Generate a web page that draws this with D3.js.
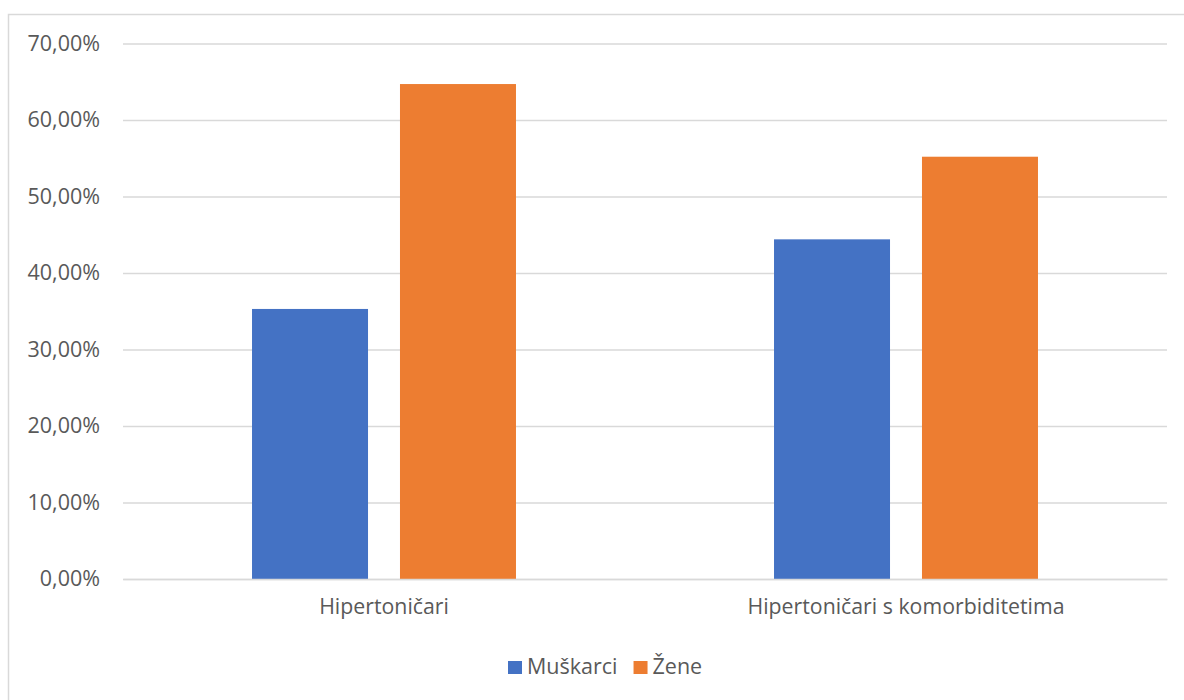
<!DOCTYPE html>
<html>
<head>
<meta charset="utf-8">
<script src="https://cdn.jsdelivr.net/npm/d3@7"></script>
<style>
  html, body { margin: 0; padding: 0; background: #fff; }
  text { font-family: "Open Sans", sans-serif; fill: #595959; }
</style>
</head>
<body>
<div id="chart"></div>
<script>
// Chart data
const categories = ["Hipertoničari", "Hipertoničari s komorbiditetima"];
const seriesNames = ["Muškarci", "Žene"];
const muskarci = [0.353, 0.444];
const zene = [0.647, 0.552];
const yTicks = [0, 0.1, 0.2, 0.3, 0.4, 0.5, 0.6, 0.7];
const colors = ["#4472C4", "#ED7D31"];

const W = 1184, H = 700;
const plot = { left: 123, right: 1167, top: 43.5, bottom: 579 };

const svg = d3.select("#chart").append("svg")
  .attr("width", W)
  .attr("height", H);

// Chart area border (only top and left visible in the frame)
svg.append("rect")
  .attr("x", 8.5).attr("y", 14.5)
  .attr("width", 1300).attr("height", 800)
  .attr("fill", "none")
  .attr("stroke", "#d9d9d9")
  .attr("stroke-width", 1.5);

// Scales
const x0 = d3.scaleBand()
  .domain(categories)
  .range([plot.left, plot.right])
  .padding(0);

const x1 = d3.scaleBand()
  .domain(seriesNames)
  .range([0, x0.bandwidth()])
  .paddingInner(0.216)
  .paddingOuter(0.872);

const y = d3.scaleLinear()
  .domain([0, 0.7])
  .range([plot.bottom, plot.top]);

const fmt = v => d3.format(".2f")(v * 100).replace(".", ",") + "%";

// Gridlines + y labels via axis
const yAxis = svg.append("g")
  .attr("transform", `translate(${plot.left},0)`)
  .call(d3.axisLeft(y)
    .tickValues(yTicks)
    .tickSize(-(plot.right - plot.left))
    .tickPadding(23)
    .tickFormat(fmt));

yAxis.select(".domain").remove();
yAxis.selectAll(".tick line")
  .attr("stroke", "#d9d9d9")
  .attr("stroke-width", 1.5);
yAxis.selectAll(".tick text")
  .style("font-family", "'Open Sans', sans-serif")
  .style("font-size", "21.5px")
  .attr("fill", "#595959");

// Bars
const rows = categories.map((c, i) => ({
  category: c,
  values: [
    { series: seriesNames[0], value: muskarci[i] },
    { series: seriesNames[1], value: zene[i] }
  ]
}));

const groups = svg.selectAll(".group")
  .data(rows)
  .enter().append("g")
  .attr("class", "group")
  .attr("transform", d => `translate(${x0(d.category)},0)`);

groups.selectAll("rect")
  .data(d => d.values)
  .enter().append("rect")
  .attr("x", d => x1(d.series))
  .attr("y", d => y(d.value))
  .attr("width", x1.bandwidth())
  .attr("height", d => y(0) - y(d.value))
  .attr("fill", (d, i) => colors[i]);

// Category labels
const xAxis = svg.append("g")
  .attr("transform", `translate(0,${plot.bottom})`)
  .call(d3.axisBottom(x0).tickSize(0).tickPadding(20));

xAxis.select(".domain")
  .attr("stroke", "#d9d9d9")
  .attr("stroke-width", 1.5);
xAxis.selectAll(".tick text")
  .style("font-family", "'Open Sans', sans-serif")
  .style("font-size", "21.3px")
  .attr("fill", "#595959");

// Legend
const legend = svg.append("g").attr("transform", "translate(508,0)");
let lx = 0;
seriesNames.forEach((name, i) => {
  legend.append("rect")
    .attr("x", lx).attr("y", 661)
    .attr("width", 14).attr("height", 13)
    .attr("fill", colors[i]);
  const t = legend.append("text")
    .attr("x", lx + 19).attr("y", 674)
    .style("font-size", "21.5px")
    .text(name);
  lx += 19 + t.node().getComputedTextLength() + 16;
});
</script>
</body>
</html>
